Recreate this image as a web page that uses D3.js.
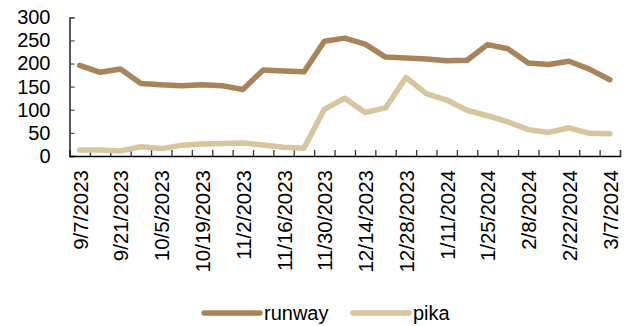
<!DOCTYPE html>
<html>
<head>
<meta charset="utf-8">
<script src="https://cdn.jsdelivr.net/npm/d3@7"></script>
<style>
  body { margin: 0; background: #fff; }
  text { font-family: "Liberation Sans", Arial, sans-serif; fill: #000; }
</style>
</head>
<body>
<div id="chart"></div>
<script>
var width = 627;
var height = 326;

// weekly dates
var dates = ["9/7/2023", "9/14/2023", "9/21/2023", "9/28/2023", "10/5/2023", "10/12/2023",
  "10/19/2023", "10/26/2023", "11/2/2023", "11/9/2023", "11/16/2023", "11/23/2023",
  "11/30/2023", "12/7/2023", "12/14/2023", "12/21/2023", "12/28/2023", "1/4/2024",
  "1/11/2024", "1/18/2024", "1/25/2024", "2/1/2024", "2/8/2024", "2/15/2024",
  "2/22/2024", "2/29/2024", "3/7/2024"];

var runway = [196, 181, 188, 157, 154, 152, 154, 152, 144, 186, 184, 182, 248, 255, 242,
  214, 212, 210, 206, 207, 241, 232, 201, 198, 205, 188, 165];
var pika = [13, 13, 11, 20, 16, 23, 26, 27, 28, 24, 19, 17, 101, 125, 94, 104, 170, 135,
  121, 99, 87, 74, 57, 51, 61, 49, 48];

var yTicks = [0, 50, 100, 150, 200, 250, 300];

var seriesNames = ["runway", "pika"];
var seriesColors = { runway: "#A9845A", pika: "#D6C59D" };

var svg = d3.select("#chart").append("svg")
  .attr("width", width)
  .attr("height", height);

var x = d3.scaleLinear().domain([0, dates.length]).range([69.5, 620]);
var y = d3.scaleLinear().domain([0, 300]).range([156, 17.3]);

// y axis, ticks pointing inward
var yAxis = svg.append("g")
  .attr("transform", "translate(69.5,0)")
  .call(d3.axisRight(y).tickValues(yTicks).tickSize(5).tickFormat(d3.format("d")));
yAxis.select(".domain").attr("stroke", "#000").attr("stroke-width", 1.3);
yAxis.selectAll(".tick line").attr("stroke", "#555").attr("stroke-width", 1.3);
yAxis.selectAll(".tick text")
  .attr("x", -19)
  .attr("text-anchor", "end")
  .style("font-size", "20px")
  .style("font-family", "Liberation Sans, Arial, sans-serif");

// x axis: ticks on category boundaries
var xAxis = svg.append("g")
  .attr("transform", "translate(0,156)")
  .call(d3.axisTop(x).tickValues(d3.range(0, dates.length + 1)).tickSize(6).tickFormat(""));
xAxis.select(".domain").attr("stroke", "#000").attr("stroke-width", 1.3);
xAxis.selectAll(".tick line").attr("stroke", "#333").attr("stroke-width", 1.3);

// labels every other week
svg.append("g").selectAll("text")
  .data(dates.filter(function (d, i) { return i % 2 === 0; }))
  .enter()
  .append("text")
  .attr("transform", function (d) {
    var i = dates.indexOf(d);
    return "translate(" + (x(i + 0.5) + 8) + ",170) rotate(-90)";
  })
  .attr("text-anchor", "end")
  .style("font-size", "20.5px")
  .text(function (d) { return d; });

var line = d3.line()
  .x(function (d, i) { return x(i + 0.5); })
  .y(function (d) { return y(d); });

var data = { runway: runway, pika: pika };
seriesNames.forEach(function (name) {
  svg.append("path")
    .datum(data[name])
    .attr("fill", "none")
    .attr("stroke", seriesColors[name])
    .attr("stroke-width", 5.5)
    .attr("stroke-linejoin", "round")
    .attr("stroke-linecap", "round")
    .attr("d", line);
});

// legend
var legendPos = { runway: 204, pika: 353 };
seriesNames.forEach(function (name) {
  var lx = legendPos[name];
  svg.append("line")
    .attr("x1", lx).attr("x2", lx + 56)
    .attr("y1", 313).attr("y2", 313)
    .attr("stroke", seriesColors[name])
    .attr("stroke-width", 5.5)
    .attr("stroke-linecap", "round");
  svg.append("text")
    .attr("x", lx + 60)
    .attr("y", 320)
    .style("font-size", "20px")
    .text(name);
});
</script>
</body>
</html>
